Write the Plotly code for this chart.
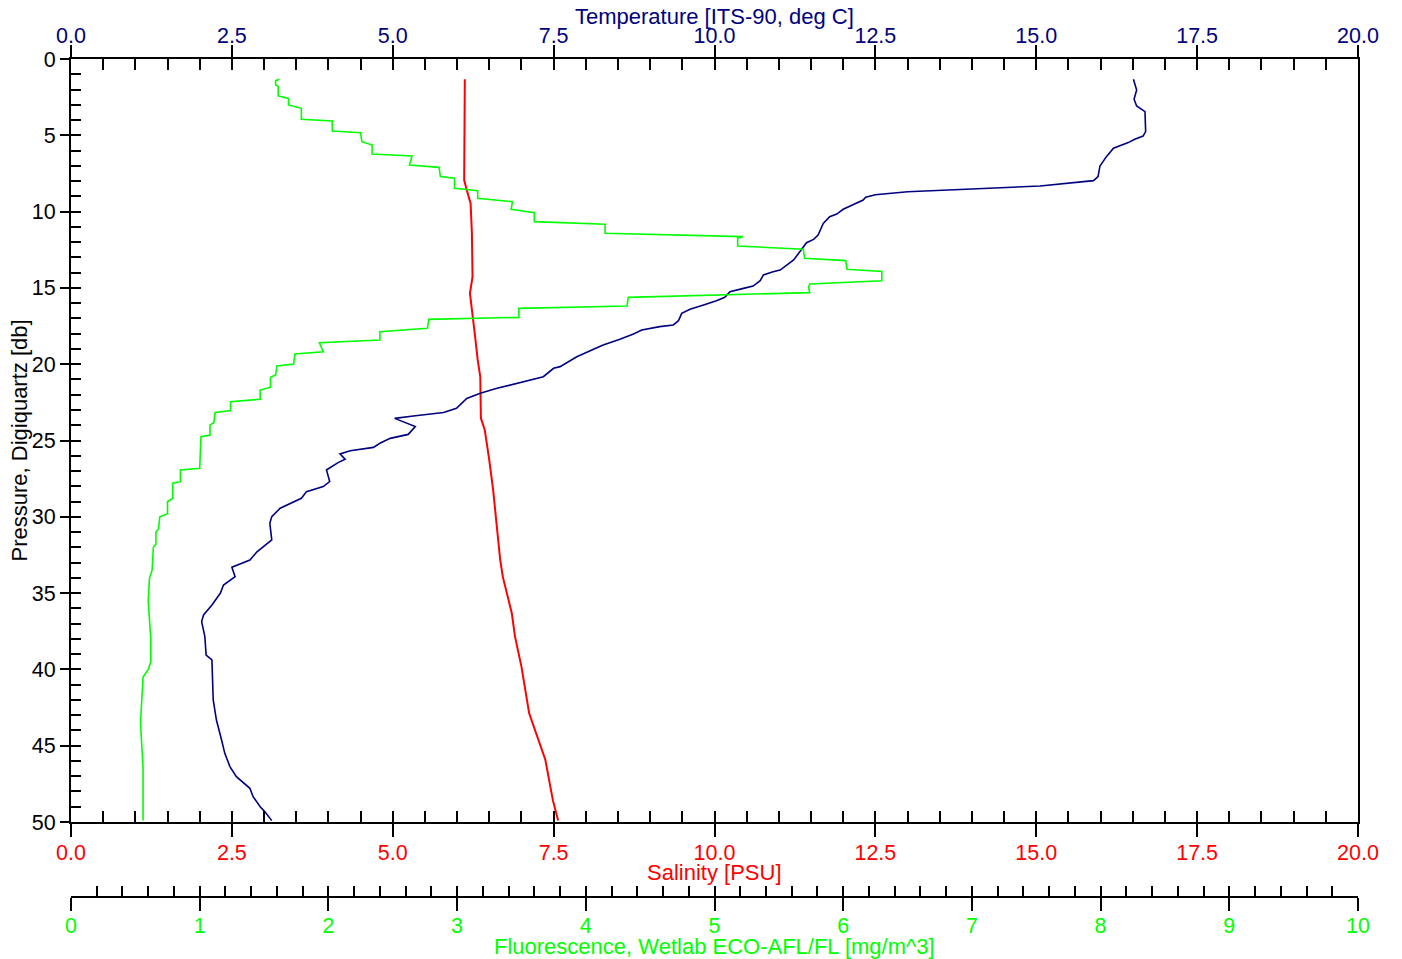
import plotly.graph_objects as go

# ---- data ----
pres_temp = [1.33, 2.03, 2.64, 3.08, 3.45, 4.76, 5.05, 5.26, 5.48, 5.85, 6.40, 7.01, 7.71, 7.97, 8.32,
             8.50, 8.70, 8.90, 9.05, 9.24, 9.85, 10.16, 10.33, 10.77, 11.53, 11.82, 12.04, 13.17, 13.83,
             13.94, 14.15, 14.53, 14.88, 15.03, 15.25, 15.62, 15.84, 16.12, 16.40, 16.67, 17.15, 17.43,
             17.54, 17.76, 18.02, 18.37, 18.74, 19.02, 19.51, 20.16, 20.27, 20.82, 21.20, 21.58, 21.91,
             22.24, 22.89, 23.17, 23.39, 23.55, 24.09, 24.60, 24.86, 25.18, 25.45, 25.67, 25.88, 26.23,
             26.45, 26.93, 27.69, 28.02, 28.35, 28.79, 29.44, 29.99, 30.43, 31.52, 32.29, 32.83, 33.31,
             33.92, 34.47, 35.01, 35.78, 36.43, 36.87, 37.85, 39.06, 39.38, 42.00, 43.32, 44.63, 45.50,
             46.37, 47.03, 47.79, 48.34, 49.00, 49.32, 49.91]
temperature = [16.51, 16.56, 16.52, 16.56, 16.69, 16.70, 16.66, 16.53, 16.43, 16.20, 16.09, 15.99, 15.96,
               15.89, 15.06, 14.00, 13.00, 12.50, 12.35, 12.31, 12.00, 11.90, 11.79, 11.69, 11.61, 11.54,
               11.43, 11.23, 11.02, 10.91, 10.76, 10.71, 10.60, 10.45, 10.24, 10.16, 10.03, 9.83, 9.62,
               9.49, 9.44, 9.36, 9.15, 8.87, 8.74, 8.53, 8.27, 8.12, 7.86, 7.60, 7.50, 7.34, 6.98, 6.62,
               6.36, 6.15, 5.99, 5.79, 5.32, 5.03, 5.35, 5.24, 4.96, 4.80, 4.70, 4.34, 4.18, 4.26, 4.15,
               3.97, 4.02, 3.92, 3.66, 3.58, 3.25, 3.12, 3.09, 3.12, 2.89, 2.78, 2.50, 2.55, 2.37, 2.32,
               2.19, 2.06, 2.03, 2.08, 2.10, 2.19, 2.21, 2.26, 2.34, 2.39, 2.47, 2.57, 2.78, 2.83, 2.94,
               3.01, 3.12]

pres_sal = [1.33, 5.31, 7.93, 8.58, 9.46, 11.42, 14.26, 15.36, 16.67, 18.20, 19.72, 20.82, 23.55, 24.31,
            26.28, 28.24, 32.83, 33.92, 36.32, 37.85, 39.82, 42.88, 45.90, 48.60, 49.90]
salinity = [6.12, 6.12, 6.11, 6.15, 6.21, 6.23, 6.24, 6.20, 6.24, 6.28, 6.32, 6.36, 6.37, 6.43,
            6.50, 6.56, 6.67, 6.71, 6.85, 6.90, 7.00, 7.12, 7.37, 7.49, 7.57]

pres_fl = [1.33, 1.42, 1.70, 1.81, 2.42, 2.58, 3.01, 3.23, 3.95, 4.06, 4.72, 4.83, 5.42, 5.64, 6.23,
           6.36, 6.95, 7.10, 7.71, 7.82, 8.48, 8.63, 9.13, 9.35, 9.85, 10.07, 10.66, 10.83, 11.42, 11.64,
           11.75, 12.25, 12.47, 13.06, 13.21, 13.78, 13.93, 14.53, 14.74, 14.96, 15.31, 15.62, 16.19,
           16.34, 16.93, 17.06, 17.65, 17.87, 18.41, 18.59, 19.18, 19.33, 19.99, 20.12, 20.71, 20.86,
           21.51, 21.69, 22.30, 22.46, 23.04, 23.17, 23.83, 23.98, 24.64, 24.75, 26.82, 26.93, 27.70,
           27.80, 28.80, 29.00, 29.80, 30.00, 30.80, 31.00, 31.80, 32.00, 33.50, 34.00, 35.50, 36.50,
           38.00, 39.50, 40.00, 40.50, 42.00, 43.50, 45.00, 46.50, 48.00, 49.90]
fluorescence = [1.62, 1.59, 1.59, 1.61, 1.61, 1.69, 1.69, 1.79, 1.79, 2.03, 2.03, 2.25, 2.26, 2.34, 2.34,
                2.65, 2.63, 2.86, 2.87, 2.98, 2.98, 3.16, 3.16, 3.43, 3.42, 3.60, 3.60, 4.15, 4.15, 5.22,
                5.18, 5.18, 5.69, 5.70, 6.02, 6.03, 6.30, 6.30, 5.74, 5.73, 5.74, 4.33, 4.32,
                3.48, 3.48, 2.78, 2.77, 2.40, 2.40, 1.93, 1.96, 1.74, 1.73, 1.60, 1.59, 1.55,
                1.55, 1.47, 1.47, 1.24, 1.24, 1.12, 1.11, 1.08, 1.08, 1.01, 1.00, 0.85, 0.85,
                0.79, 0.79, 0.75, 0.75, 0.69, 0.68, 0.66, 0.66, 0.64, 0.63, 0.61, 0.60, 0.61,
                0.62, 0.62, 0.60, 0.56, 0.55, 0.54, 0.55, 0.56, 0.56, 0.56]

TEMP_COLOR = "#000080"
SAL_COLOR = "#ff0000"
FL_COLOR = "#00ff00"
FONT = "Liberation Sans, Arial, sans-serif"
TICK_SIZE = 21.5
TITLE_SIZE = 22

W, H = 1402, 959
ML, MR, MT, MB = 71, 44, 59, 62
plot_bottom_px = 822
paper_h = H - MT - MB
ydom0 = (H - MB - plot_bottom_px) / paper_h

fig = go.Figure()

fig.add_trace(go.Scatter(x=salinity, y=pres_sal, mode="lines", xaxis="x", yaxis="y",
                         line=dict(color=SAL_COLOR, width=2), showlegend=False))
fig.add_trace(go.Scatter(x=fluorescence, y=pres_fl, mode="lines", xaxis="x3", yaxis="y",
                         line=dict(color=FL_COLOR, width=1.6), showlegend=False))
fig.add_trace(go.Scatter(x=temperature, y=pres_temp, mode="lines", xaxis="x2", yaxis="y",
                         line=dict(color=TEMP_COLOR, width=1.6), showlegend=False))
# helper (empty) traces for the inner-tick axes
for xa, ya in [("x4", "y"), ("x5", "y"), ("x6", "y"), ("x", "y2")]:
    fig.add_trace(go.Scatter(x=[], y=[], xaxis=xa, yaxis=ya, showlegend=False, hoverinfo="skip"))

common = dict(showgrid=False, zeroline=False, tickcolor="black", tickwidth=2, automargin=False)

fig.update_layout(
    width=W, height=H,
    margin=dict(l=ML, r=MR, t=MT, b=MB, autoexpand=False),
    paper_bgcolor="white", plot_bgcolor="white",
    font=dict(family=FONT, size=20, color="black"),
    xaxis=dict(**common, domain=[0, 1], anchor="y", side="bottom", range=[0, 20],
               tick0=0, dtick=2.5, tickformat=".1f", ticks="outside", ticklen=13,
               showline=True, linecolor="black", linewidth=2, ticklabelstandoff=-3,
               tickfont=dict(color=SAL_COLOR, size=TICK_SIZE)),
    xaxis2=dict(**common, overlaying="x", anchor="y", side="top", range=[0, 20],
                tick0=0, dtick=2.5, tickformat=".1f", ticks="outside", ticklen=12,
                showline=True, linecolor="black", linewidth=2, ticklabelstandoff=-7,
                tickfont=dict(color=TEMP_COLOR, size=TICK_SIZE)),
    xaxis3=dict(**common, overlaying="x", anchor="free", position=0, side="bottom", range=[0, 10],
                tick0=0, dtick=1, ticks="outside", ticklen=13, ticklabelstandoff=-4,
                showline=True, linecolor="black", linewidth=2,
                tickfont=dict(color=FL_COLOR, size=TICK_SIZE)),
    xaxis4=dict(**common, overlaying="x", anchor="y", side="bottom", range=[0, 20],
                tick0=0, dtick=0.5, ticks="inside", ticklen=11, showticklabels=False,
                showline=False),
    xaxis5=dict(**common, overlaying="x", anchor="y", side="top", range=[0, 20],
                tick0=0, dtick=0.5, ticks="inside", ticklen=11, showticklabels=False,
                showline=False),
    xaxis6=dict(**common, overlaying="x", anchor="free", position=0, side="bottom", range=[0, 10],
                tick0=0, dtick=0.2, ticks="inside", ticklen=11, showticklabels=False,
                showline=False),
    yaxis=dict(**common, domain=[ydom0, 1], anchor="x", range=[50, 0], tick0=0, dtick=5,
               ticks="outside", ticklen=9, showline=True, linecolor="black", linewidth=2,
               mirror=True, tickfont=dict(color="black", size=TICK_SIZE)),
    yaxis2=dict(**common, domain=[ydom0, 1], overlaying="y", anchor="x", side="left",
                range=[50, 0], tick0=0, dtick=1, ticks="inside", ticklen=10,
                showticklabels=False, showline=False),
)

# axis titles as annotations, positioned relative to the plot frame
fig.add_annotation(text="Temperature [ITS-90, deg C]", xref="paper", yref="paper", x=0.5, y=1,
                   yanchor="middle", yshift=43, showarrow=False,
                   font=dict(color=TEMP_COLOR, size=TITLE_SIZE, family=FONT))
fig.add_annotation(text="Salinity [PSU]", xref="paper", yref="y domain", x=0.5, y=0,
                   yanchor="middle", yshift=-50, showarrow=False,
                   font=dict(color=SAL_COLOR, size=TITLE_SIZE, family=FONT))
fig.add_annotation(text="Fluorescence, Wetlab ECO-AFL/FL [mg/m^3]", xref="paper", yref="paper",
                   x=0.5, y=0, yanchor="middle", yshift=-49, showarrow=False,
                   font=dict(color=FL_COLOR, size=TITLE_SIZE, family=FONT))
fig.add_annotation(text="Pressure, Digiquartz [db]", xref="paper", yref="y domain", x=0, y=0.5,
                   xanchor="center", yanchor="middle", xshift=-52, textangle=-90, showarrow=False,
                   font=dict(color="black", size=TITLE_SIZE, family=FONT))

fig.write_html("out.html", config={"displayModeBar": False},
               post_script="document.body.style.margin='0px';")
